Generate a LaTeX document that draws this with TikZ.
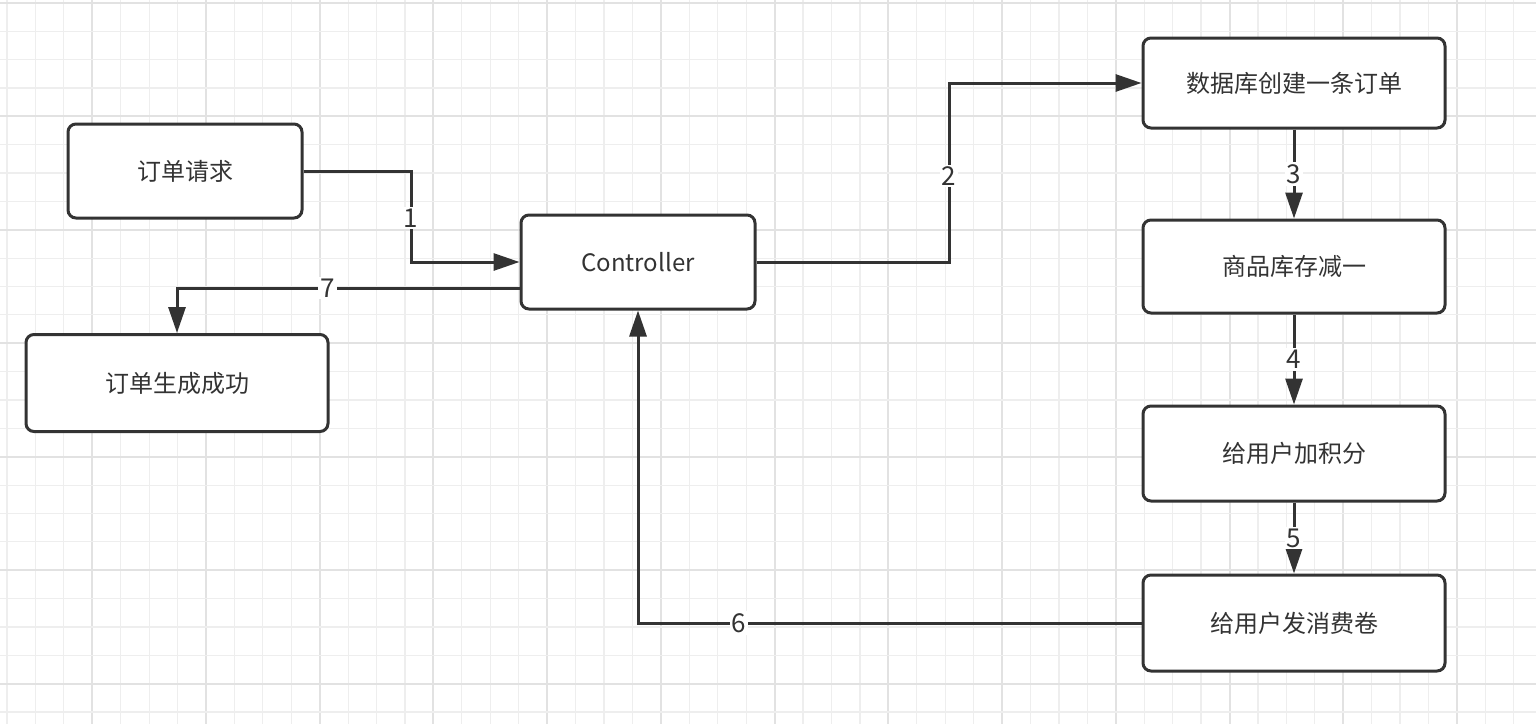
\documentclass[tikz,border=0pt]{standalone}
\usepackage{fontspec}
\setmainfont{Noto Sans CJK SC}
\usetikzlibrary{positioning,arrows.meta,calc}
\definecolor{ink}{HTML}{333333}
\definecolor{gridlight}{HTML}{EEEEEE}
\definecolor{griddark}{HTML}{E2E2E2}

\begin{document}
\begin{tikzpicture}[x=0.5pt, y=-0.5pt,
    every node/.style={font=\fontsize{12pt}{14pt}\selectfont, text=ink},
    box/.style={draw=ink, line width=1.5pt, rounded corners=4pt, fill=white,
                minimum width=117pt, minimum height=47pt},
    widebox/.style={box, minimum width=151pt},
    flow/.style={draw=ink, line width=1.5pt, -{Triangle[length=13pt,width=8.5pt]}},
    num/.style={fill=white, inner sep=1pt, font=\fontsize{13pt}{15pt}\selectfont},
    minorline/.style={draw=gridlight, line width=0.6pt},
    majorline/.style={draw=griddark, line width=1pt}]
    \useasboundingbox (0,0) rectangle (1536,724);
    \fill[white] (0,0) rectangle (1536,724);
    % grid
    \foreach \i in {0,...,53} {
      \pgfmathtruncatemacro\m{mod(\i,4)}
      \ifnum\m=3 \def\gs{majorline}\else\def\gs{minorline}\fi
      \draw[\gs] ({7+28.43*\i},0) -- ({7+28.43*\i},724);
    }
    \foreach \j in {0,...,25} {
      \pgfmathtruncatemacro\m{mod(\j,4)}
      \ifnum\m=0 \def\gs{majorline}\else\def\gs{minorline}\fi
      \draw[\gs] (0,{2.8+28.37*\j}) -- (1536,{2.8+28.37*\j});
    }

    \node[box] (req) at (185,171) {订单请求};
    \node[box] (ctrl) at (638,262) {Controller};
    \node[widebox, minimum height=48.5pt] (done) at (177,383) {订单生成成功};
    \node[widebox, minimum height=45pt] (db) at (1294,83) {数据库创建一条订单};
    \node[widebox, minimum height=46.5pt, below=44.5pt of db] (stock) {商品库存减一};
    \node[widebox, minimum height=47.5pt, below=45pt of stock] (points) {给用户加积分};
    \node[widebox, minimum height=48pt, below=35.5pt of points] (coupon) {给用户发消费卷};

    \coordinate (k1) at (411,218);
    \coordinate (k2) at (949,176);
    \draw[flow] (req.east) -| (k1) node[num] (n1) {1} |- (ctrl.west);
    \draw[flow] (ctrl.east) -| (k2) node[num] (n2) {2} |- (db.west);
    \draw[flow] (db) -- node[num] (n3) {3} (stock);
    \draw[flow] (stock) -- node[num] (n4) {4} (points);
    \draw[flow] (points) -- node[num] (n5) {5} (coupon);
    \draw[flow] (coupon.west) -| node[num, pos=0.4] (n6) {6} (ctrl.south);
    \draw[flow] ($(ctrl.west)+(0,26)$) -| node[num, pos=0.28] (n7) {7} (done.north);
  \end{tikzpicture}
\end{document}
